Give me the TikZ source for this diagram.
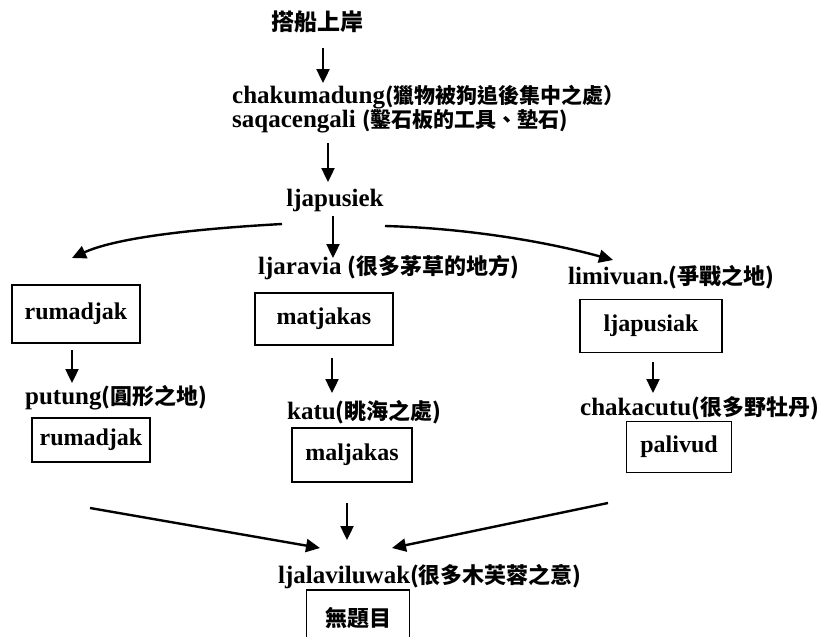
\documentclass[tikz,border=0pt]{standalone}
\usepackage{fontspec}
\setmainfont{Liberation Serif}
\newfontfamily\cjkfont{Noto Sans CJK TC}
\usetikzlibrary{arrows.meta}
\newcommand{\zhtext}[1]{{\cjkfont\bfseries\fontsize{22}{24}\selectfont #1}}
\newcommand{\zhsmall}[1]{{\cjkfont\bfseries\fontsize{21}{23}\selectfont #1}}
\tikzset{
  lat/.style={font=\bfseries\fontsize{25}{27}\selectfont, inner sep=0pt},
  boxnode/.style={draw, line width=1.6pt, font=\bfseries\fontsize{24}{26}\selectfont, inner sep=0pt, align=center},
  arr/.style={line width=2.4pt, -{Triangle[length=14pt,width=13pt]}},
}
\begin{document}
\begin{tikzpicture}[x=1pt,y=-1pt]
\useasboundingbox (0,0) rectangle (836,637);
\fill[white] (0,0) rectangle (836,637);

% text nodes
\node[lat] (top) at (317,22) {{\cjkfont\bfseries\fontsize{23}{25}\selectfont 搭船上岸}};
\node[lat, anchor=west] (chak) at (232,97) {chakumadung\zhsmall{(獵物被狗追後集中之處）}};
\node[lat, anchor=west] (saq) at (232,121) {saqacengali \zhsmall{(鑿石板的工具、墊石)}};
\node[lat] (ljp) at (335,200) {ljapusiek};
\node[lat, anchor=west] (ljar) at (258,268) {ljaravia \zhtext{(很多茅草的地方)}};
\node[lat, anchor=west] (limi) at (568,277) {limivuan.\zhtext{(爭戰之地)}};
\node[lat, anchor=west] (put) at (25,398) {putung\zhtext{(圓形之地)}};
\node[lat, anchor=west] (katu) at (287,412) {katu\zhtext{(眺海之處)}};
\node[lat, anchor=west] (chkc) at (580,408) {chakacutu\zhtext{(很多野牡丹)}};
\node[lat, anchor=west] (ljal) at (278,577) {ljalaviluwak\zhtext{(很多木芙蓉之意)}};

% boxes
\node[boxnode, minimum width=128pt, minimum height=58pt] (b1) at (76,314) {rumadjak};
\node[boxnode, minimum width=138pt, minimum height=52pt] (b2) at (324,319) {matjakas};
\node[boxnode, minimum width=142pt, minimum height=53pt] (b3) at (651,326) {ljapusiak};
\node[boxnode, minimum width=118pt, minimum height=44pt] (b4) at (91,440) {rumadjak};
\node[boxnode, minimum width=120pt, minimum height=54pt] (b5) at (352,455) {maljakas};
\node[boxnode, minimum width=105pt, minimum height=51pt] (b6) at (679,447) {palivud};
\node[boxnode, minimum width=103pt, minimum height=56pt] (b7) at (358,618) {\zhtext{無題目}};

% arrow end points
\coordinate (a1s) at (323,48);  \coordinate (a1e) at (323,83);
\coordinate (a2s) at (328,143); \coordinate (a2e) at (328,182);
\coordinate (a3s) at (282,224); \coordinate (a3e) at (72,258);
\coordinate (a4s) at (333,216); \coordinate (a4e) at (333,258);
\coordinate (a5s) at (385,226); \coordinate (a5e) at (613,260);
\coordinate (a6s) at (72,350);  \coordinate (a6e) at (72,383);
\coordinate (a7s) at (332,358); \coordinate (a7e) at (332,393);
\coordinate (a8s) at (653,362); \coordinate (a8e) at (653,393);
\coordinate (a9s) at (90,508);  \coordinate (a9e) at (320,548);
\coordinate (a10s) at (347,503); \coordinate (a10e) at (347,540);
\coordinate (a11s) at (608,503); \coordinate (a11e) at (392,548);

\draw[arr] (a1s) -- (a1e);
\draw[arr] (a2s) -- (a2e);
\draw[arr] (a3s) .. controls (210,228) and (120,236) .. (a3e);
\draw[arr] (a4s) -- (a4e);
\draw[arr] (a5s) .. controls (460,228) and (540,240) .. (a5e);
\draw[arr] (a6s) -- (a6e);
\draw[arr] (a7s) -- (a7e);
\draw[arr] (a8s) -- (a8e);
\draw[arr] (a9s) -- (a9e);
\draw[arr] (a10s) -- (a10e);
\draw[arr] (a11s) -- (a11e);
\end{tikzpicture}
\end{document}
